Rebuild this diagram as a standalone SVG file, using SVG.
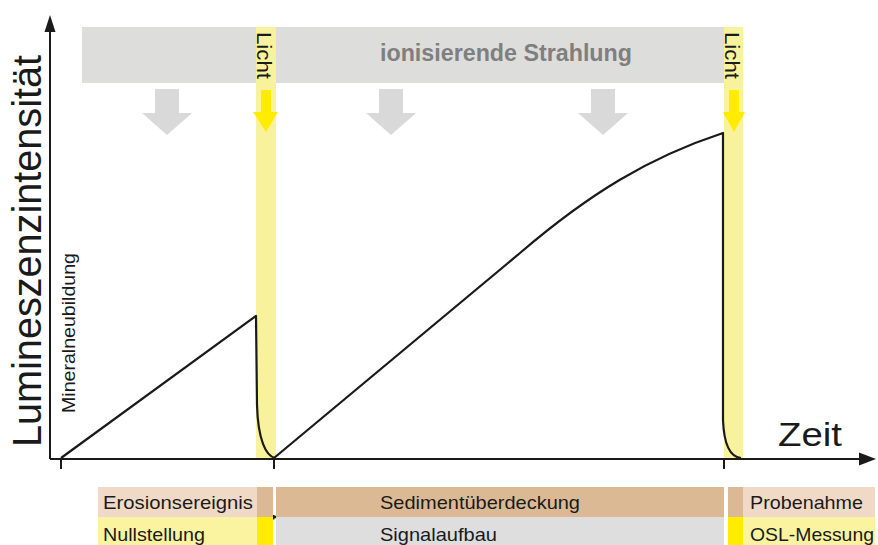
<svg xmlns="http://www.w3.org/2000/svg" width="878" height="545" viewBox="0 0 878 545">
<defs>
<style>
text{font-family:"Liberation Sans",Arial,sans-serif;fill:#1a1a1a}
.ax{stroke:#1a1a1a;stroke-width:2;fill:none}
.curve{stroke:#1a1a1a;stroke-width:2.2;fill:none;stroke-linejoin:round}
.band{fill:#f8f29c}
.garrow{fill:#d9d9d9}
.yarrow{fill:#ffec00}
.peach{fill:#f0dac7}
.tan{fill:#dcb995}
.ly{fill:#faf4a0}
.yy{fill:#ffec00}
.gray{fill:#dedede}
.lbl{font-size:19px}
</style>
<marker id="ah" viewBox="0 0 10 10" refX="10" refY="5" markerWidth="6" markerHeight="5" markerUnits="strokeWidth" orient="auto">
<path d="M0,0 L10,5 L0,10 z" fill="#1a1a1a"/>
</marker>
<marker id="dot" viewBox="0 0 4 4" refX="2" refY="2" markerWidth="2" markerHeight="2" markerUnits="strokeWidth">
<rect x="0" y="0" width="4" height="4" fill="#1a1a1a"/>
</marker>
</defs>
<rect width="878" height="545" fill="#fff"/>

<g id="radiation-bar">
<rect x="82" y="27" width="642" height="56" fill="#dddddc"/>
<text x="506" y="61" font-size="23" font-weight="bold" text-anchor="middle" style="fill:#7f7f7f" textLength="252" lengthAdjust="spacingAndGlyphs">ionisierende Strahlung</text>
</g>

<g id="light-band-1">
<rect class="band" x="256" y="27" width="20" height="431"/>
<text transform="translate(257,32) rotate(90)" font-size="19.5" textLength="47" lengthAdjust="spacingAndGlyphs">Licht</text>
<path class="yarrow" d="M261,90 H271 V112 H278 L266,132 L253,112 H261 Z"/>
</g>

<g id="light-band-2">
<rect class="band" x="724" y="27" width="19" height="431"/>
<text transform="translate(725,32) rotate(90)" font-size="19.5" textLength="47" lengthAdjust="spacingAndGlyphs">Licht</text>
<path class="yarrow" d="M729,90 H739 V112 H745 L734,132 L723,112 H729 Z"/>
</g>

<g id="radiation-arrows">
<path class="garrow" d="M155,89 H179 V113 H192 L167,135 L142,113 H155 Z"/>
<path class="garrow" d="M379,89 H403 V113 H416 L391,135 L366,113 H379 Z"/>
<path class="garrow" d="M591,89 H615 V113 H628 L603,135 L578,113 H591 Z"/>
</g>

<g id="axes">
<path class="ax" d="M50,459 V30"/>
<path d="M50,15 L55.5,32 L44.5,32 Z" fill="#1a1a1a"/>
<path class="ax" d="M50,459 H860"/>
<path d="M876,459 L859,452.5 L859,465.5 Z" fill="#1a1a1a"/>
<path class="ax" d="M61,459 V469 M274,459 V469 M724,459 V469"/>
<text transform="translate(41,447) rotate(-90)" font-size="40" textLength="392" lengthAdjust="spacingAndGlyphs">Lumineszenzintensität</text>
<text x="778" y="446" font-size="34" textLength="64" lengthAdjust="spacingAndGlyphs">Zeit</text>
<text transform="translate(75,413) rotate(-90)" font-size="18.5" textLength="160" lengthAdjust="spacingAndGlyphs">Mineralneubildung</text>
</g>

<g id="connectors">
<path class="curve" d="M61,458 L256,316 L257,405 C258,440 266,456 275,458"/>
<path class="curve" d="M274,458 L520,253 C590,193 650,157 723,133 L723,420 C724,446 730,457 741,458"/>
<path d="M272,517 H714" stroke="#1a1a1a" stroke-width="2.5" fill="none" marker-start="url(#dot)" marker-end="url(#ah)"/>
</g>

<g id="phase-erosion">
<rect class="peach" x="98" y="487" width="159" height="30"/>
<rect class="tan" x="257" y="487" width="16" height="30"/>
<text class="lbl" x="103" y="509" textLength="150" lengthAdjust="spacingAndGlyphs">Erosionsereignis</text>
</g>
<g id="phase-nullstellung">
<rect class="ly" x="98" y="517" width="159" height="28"/>
<rect class="yy" x="257" y="517" width="16" height="28"/>
<text class="lbl" x="103" y="541" textLength="102" lengthAdjust="spacingAndGlyphs">Nullstellung</text>
</g>
<g id="phase-sediment">
<rect class="tan" x="276" y="487" width="448" height="30"/>
<text class="lbl" x="380" y="509" textLength="200" lengthAdjust="spacingAndGlyphs">Sedimentüberdeckung</text>
</g>
<g id="phase-signal">
<rect class="gray" x="276" y="517" width="448" height="28"/>
<text class="lbl" x="380" y="541" textLength="117" lengthAdjust="spacingAndGlyphs">Signalaufbau</text>
</g>
<g id="phase-probenahme">
<rect class="tan" x="728" y="487" width="15" height="30"/>
<rect class="peach" x="743" y="487" width="132" height="30"/>
<text class="lbl" x="750" y="509" textLength="113" lengthAdjust="spacingAndGlyphs">Probenahme</text>
</g>
<g id="phase-osl">
<rect class="yy" x="728" y="517" width="15" height="28"/>
<rect class="ly" x="743" y="517" width="132" height="28"/>
<text class="lbl" x="750" y="541" textLength="124" lengthAdjust="spacingAndGlyphs">OSL-Messung</text>
</g>
</svg>
